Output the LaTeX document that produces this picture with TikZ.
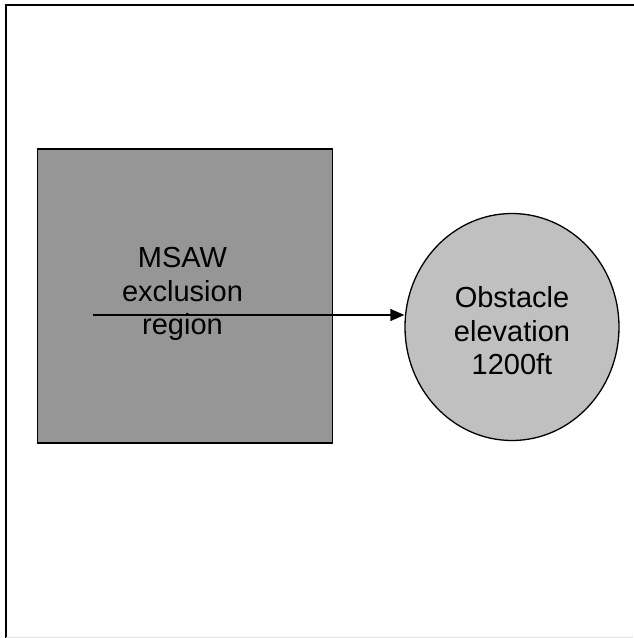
\documentclass[tikz,border=0pt]{standalone}
\usepackage{fontspec}
\setmainfont{Liberation Sans}
\usetikzlibrary{arrows.meta,shapes.geometric}
\definecolor{boxgray}{HTML}{969696}
\definecolor{ellgray}{HTML}{C0C0C0}
\begin{document}
\begin{tikzpicture}[x=1pt,y=-1pt,
  lbl/.style={font=\fontsize{29}{33.5}\selectfont, align=center, inner sep=0pt},
  conn/.style={line width=1.3pt, -{Triangle[length=14pt,width=12pt]}}]
\useasboundingbox (0,0) rectangle (633,638);
% frame
\draw[line width=2.4pt] (6,640) -- (6,5) -- (640,5);
\draw[line width=1pt, black!12] (6,637) -- (633,637);
% exclusion region
\node[draw, line width=1.3pt, fill=boxgray, minimum width=295pt, minimum height=294pt, inner sep=0pt] (msaw) at (185,296) {};
\node[lbl] (msawtext) at (182.5,294) {MSAW\\exclusion\\region};
% obstacle
\node[draw, ellipse, line width=1.3pt, fill=ellgray, minimum width=214pt, minimum height=227pt, inner sep=0pt] (obs) at (512,327) {};
\node[lbl] (obstext) at (512,331) {Obstacle\\elevation\\1200ft};
% connector
\coordinate (start) at (93,315);
\draw[conn] (start) -- (start -| obs.west);
\end{tikzpicture}
\end{document}
